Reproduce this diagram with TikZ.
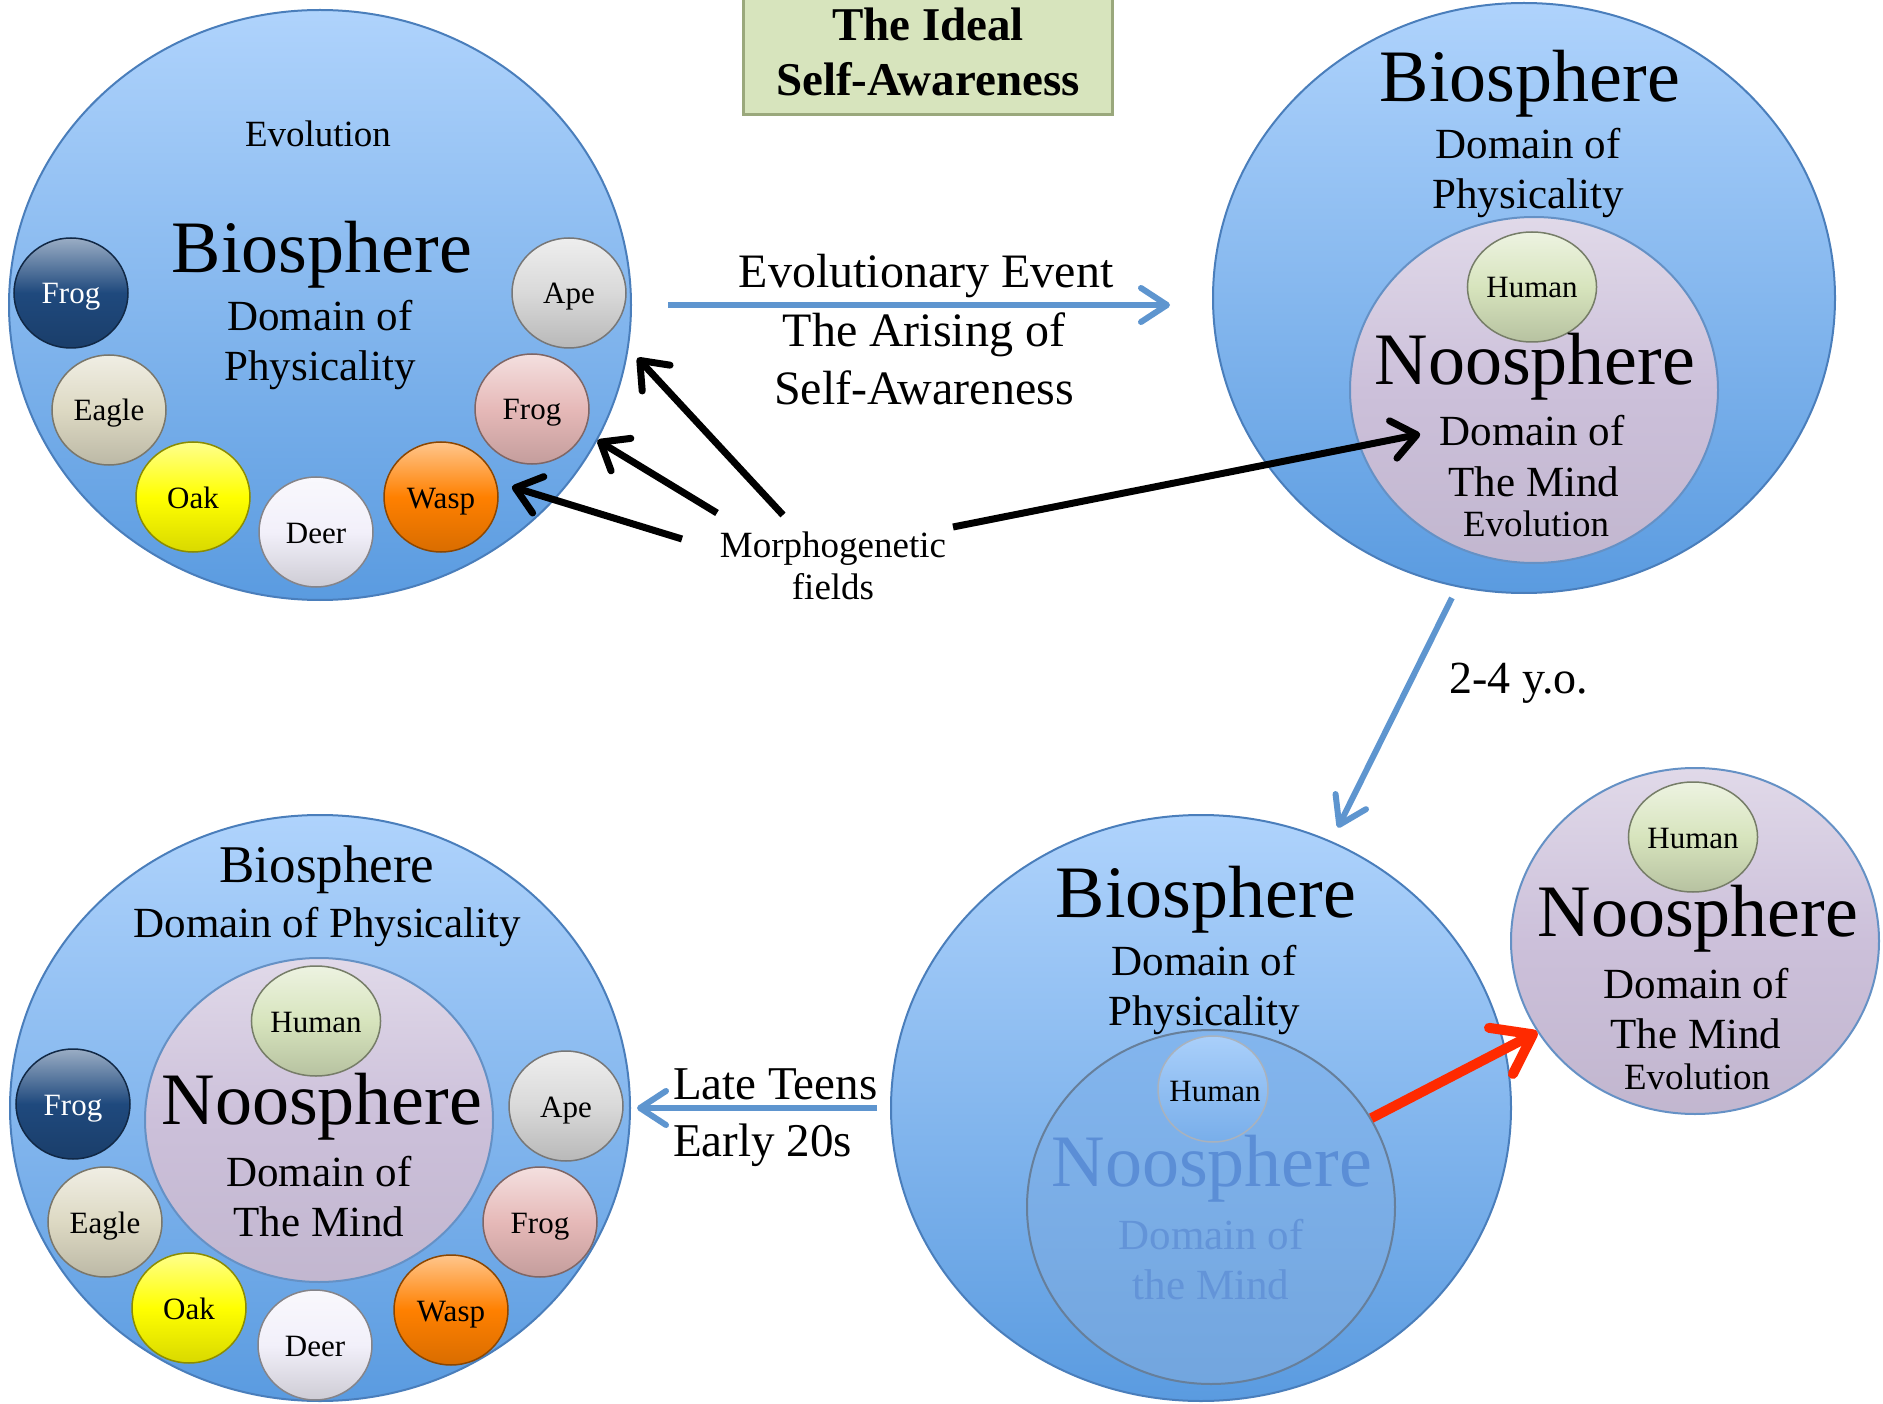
\documentclass[tikz,border=0pt]{standalone}
\usepackage{fontspec}
\setmainfont{Liberation Serif}
\usetikzlibrary{arrows.meta, shapes.geometric, positioning, calc}
\definecolor{BioTop}{HTML}{AFD3FC}
\definecolor{BioBot}{HTML}{5A9BE0}
\definecolor{BioEdge}{HTML}{4A7EBB}
\definecolor{NooFill}{HTML}{CCC0DA}
\definecolor{HumFill}{HTML}{D7E4BD}
\definecolor{FlowBlue}{HTML}{5E95CF}
\definecolor{FlowRed}{HTML}{FF2A00}
\definecolor{FrogNavy}{HTML}{1F497D}
\definecolor{EagleTan}{HTML}{DDD9C3}
\definecolor{OakYellow}{HTML}{FFFF00}
\definecolor{DeerWhite}{HTML}{F2F0FA}
\definecolor{WaspOrange}{HTML}{FF8000}
\definecolor{FrogPink}{HTML}{E6B9B8}
\definecolor{ApeGray}{HTML}{D9D9D9}
\definecolor{GhostBlue}{HTML}{5B8ED6}
\definecolor{GhostFill}{HTML}{78AEEA}
\definecolor{TitleGreen}{HTML}{D7E4BD}
\definecolor{TitleEdge}{HTML}{9AA87C}

\tikzset{
  biosph/.style={ellipse, inner sep=0pt, draw=BioEdge, line width=2pt,
    top color=BioTop, bottom color=BioBot},
  noosph/.style={ellipse, inner sep=0pt, draw=BioEdge!85, line width=2pt,
    top color=NooFill!60!white, bottom color=NooFill!95!black, middle color=NooFill},
  orb/.style={ellipse, inner sep=0pt, minimum width=114pt, minimum height=110pt,
    draw=#1!55!black, line width=1.5pt, top color=#1!45!white, bottom color=#1!85!black,
    middle color=#1, font=\fontsize{31}{36}\selectfont, text height=28pt, text depth=6pt},
  bigtxt/.style={font=\fontsize{74}{80}\selectfont, yshift=-5pt},
  domtxt/.style={font=\fontsize{43}{50}\selectfont, align=center, yshift=-5pt},
  evotxt/.style={font=\fontsize{37}{42}\selectfont, align=center},
  midtxt/.style={font=\fontsize{48}{58}\selectfont, align=center},
  flowarrow/.style={FlowBlue, line width=6pt, -{Straight Barb[length=26pt, width=34pt, round]}},
  fieldarrow/.style={black, line width=7pt, -{Straight Barb[length=24pt, width=38pt, round]}},
  redarrow/.style={FlowRed, line width=10pt, -{Straight Barb[length=36pt, width=52pt, round]}},
}

\begin{document}
\begin{tikzpicture}[x=1pt, y=-1pt]
  \useasboundingbox (0,0) rectangle (1883,1404);

  % Title
  \node[draw=TitleEdge, line width=3pt, fill=TitleGreen, minimum width=369pt, minimum height=125pt,
    font=\bfseries\fontsize{47}{55}\selectfont, align=center] (title) at (928,52) {The Ideal\\Self-Awareness};

  % Top left: biosphere before self-awareness
  \node[biosph, minimum width=622pt, minimum height=590pt] (tl) at (320,305) {};
  \node[evotxt] (tlevo) at (318,134) {Evolution};
  \node[bigtxt] (tlbio) at (322,250) {Biosphere};
  \node[domtxt] (tldom) at (320,340) {Domain of\\Physicality};
  \foreach \nm/\txt/\col/\tc/\x/\y in {frogA/Frog/FrogNavy/white/71/293, eagle/Eagle/EagleTan/black/109/410,
      oak/Oak/OakYellow/black/193/497, deer/Deer/DeerWhite/black/316/532, wasp/Wasp/WaspOrange/black/441/497,
      frogB/Frog/FrogPink/black/532/409, ape/Ape/ApeGray/black/569/293}
    \node[orb=\col, text=\tc] (tl\nm) at (\x,\y) {\txt};

  % Top right: noosphere inside biosphere
  \node[biosph, minimum width=622pt, minimum height=590pt] (tr) at (1524,298) {};
  \node[bigtxt] (trbio) at (1530,79) {Biosphere};
  \node[domtxt] (trphys) at (1528,168) {Domain of\\Physicality};
  \node[noosph, minimum width=368pt, minimum height=346pt] (trnoo) at (1534,390) {};
  \node[orb=HumFill] (trhum) at (1532,287) {Human};
  \node[bigtxt] (trnootxt) at (1535,362) {Noosphere};
  \node[domtxt] (trdom) at (1532,426) {Domain of};
  \node[domtxt] (trmind) at (1534,477) {The Mind};
  \node[evotxt] (trevo) at (1536,524) {Evolution};

  % Bottom right: noosphere leaves
  \node[biosph, minimum width=620pt, minimum height=586pt] (br) at (1201,1108) {};
  \node[bigtxt] (brbio) at (1206,895) {Biosphere};
  \node[domtxt] (brphys) at (1204,985) {Domain of\\Physicality};
  \node[ellipse, inner sep=0pt, minimum width=368pt, minimum height=354pt, draw=BioEdge!45!gray, line width=2pt,
    top color=GhostFill!80!BioTop, bottom color=GhostFill!95!black] (bnoo) at (1211,1207) {};
  \node[ellipse, inner sep=0pt, minimum width=110pt, minimum height=106pt, draw=BioEdge!30!gray!60, line width=1.5pt,
    top color=BioTop!90!GhostFill, bottom color=GhostFill] (bhum) at (1213,1089) {};
  \node[font=\fontsize{31}{36}\selectfont, text height=28pt, text depth=6pt] (bhumtxt) at (1215,1090) {Human};
  \node[bigtxt, text=GhostBlue] (bnootxt) at (1212,1164) {Noosphere};
  \node[domtxt, text=GhostBlue!95!white] (bdom) at (1211,1255) {Domain of\\the Mind};

  \node[noosph, minimum width=368pt, minimum height=346pt] (rn) at (1695,941) {};
  \node[orb=HumFill] (rnhum) at (1693,837) {Human};
  \node[bigtxt] (rnnootxt) at (1698,914) {Noosphere};
  \node[domtxt] (rndom) at (1696,1004) {Domain of\\The Mind};
  \node[evotxt] (rnevo) at (1697,1077) {Evolution};

  % Bottom left: noosphere among the others
  \node[biosph, minimum width=620pt, minimum height=586pt] (bl) at (320,1108) {};
  \node[font=\fontsize{53}{60}\selectfont, yshift=-5pt] (blbio) at (327,865) {Biosphere};
  \node[domtxt] (blphys) at (327,922) {Domain of Physicality};
  \node[noosph, minimum width=348pt, minimum height=324pt] (blnoo) at (319,1120) {};
  \node[orb=HumFill] (blhum) at (316,1021) {Human};
  \node[bigtxt] (blnootxt) at (322,1102) {Noosphere};
  \node[domtxt] (bldom) at (319,1192) {Domain of\\The Mind};
  \foreach \nm/\txt/\col/\tc/\x/\y in {frogA/Frog/FrogNavy/white/73/1104, eagle/Eagle/EagleTan/black/105/1222,
      oak/Oak/OakYellow/black/189/1308, deer/Deer/DeerWhite/black/315/1345, wasp/Wasp/WaspOrange/black/451/1310,
      frogB/Frog/FrogPink/black/540/1222, ape/Ape/ApeGray/black/566/1106}
    \node[orb=\col, text=\tc] (bl\nm) at (\x,\y) {\txt};

  % Labels between the spheres
  \node[midtxt] (event) at (926,276) {Evolutionary Event};
  \node[midtxt] (arising) at (924,359) {The Arising of\\Self-Awareness};
  \node[evotxt] (morph) at (833,566) {Morphogenetic\\fields};
  \node[font=\fontsize{46}{52}\selectfont] (age) at (1519,683) {2-4 y.o.};
  \node[font=\fontsize{47}{57}\selectfont, align=left, anchor=west, inner sep=0pt] (teens) at (673,1118) {Late Teens\\Early 20s};

  % Connectors
  \draw[flowarrow, shorten <=36pt, shorten >=42pt] (tl.east) -- (tl.east -| tr.west);
  \draw[flowarrow, shorten <=12pt, shorten >=15pt] (tr.-103) -- (br.64);
  \draw[flowarrow, shorten <=13pt, shorten >=6pt] (br.west) -- (br.west -| bl.east);
  \draw[redarrow] (bnoo.29) -- (rn.210);

  \coordinate (mf1) at (783,515);
  \coordinate (mf2) at (717,513);
  \coordinate (mf3) at (682,539);
  \coordinate (mf4) at (953,527);
  \draw[fieldarrow, shorten >=13pt] (mf1) -- (tl.-8);
  \draw[fieldarrow] (mf2) -- (tl.-26);
  \draw[fieldarrow, shorten >=16pt] (mf3) -- (tlwasp.15);
  \draw[fieldarrow, shorten >=16pt] (mf4) -- (trdom.west);
\end{tikzpicture}
\end{document}
